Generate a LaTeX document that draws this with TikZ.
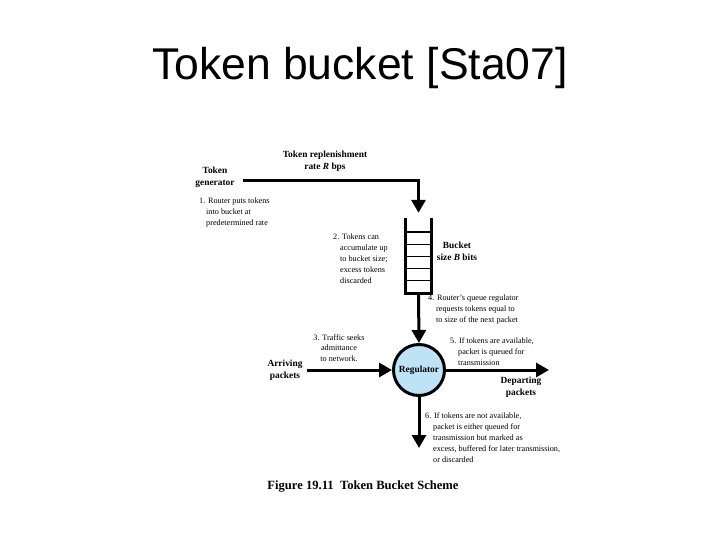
\documentclass[tikz,border=0pt]{standalone}
\usepackage{fontspec}
\setmainfont{Liberation Serif}
\newfontfamily\titlefont{Liberation Sans}
\usetikzlibrary{arrows.meta}
\definecolor{regblue}{RGB}{190,226,246}
\begin{document}
\begin{tikzpicture}[x=1pt,y=-1pt,
  thickline/.style={line width=3pt},
  bigarrow/.style={line width=3pt,-{Triangle[width=14pt,length=13pt]}},
  note/.style={font=\fontsize{8.2}{10.8}\selectfont,align=left,inner sep=0pt},
  lbl/.style={font=\fontsize{9.4}{12}\selectfont\bfseries,align=center,inner sep=0pt},
  rung/.style={line width=1pt}]
\useasboundingbox (0,0) rectangle (720,540);
% title
\node[font=\titlefont\fontsize{44.5}{48}\selectfont,inner sep=0pt] (title) at (360,68) {Token bucket [Sta07]};
% bucket
\node[minimum width=25pt,minimum height=75pt,inner sep=0pt] (bucket) at (418.5,255.5) {};
\draw[thickline] (bucket.north west) -- (bucket.south west);
\draw[thickline] (bucket.north east) -- (bucket.south east);
\foreach \yy in {232,244,256,268,280} \draw[rung] (406,\yy) -- (431,\yy);
\draw[thickline] ([xshift=-1.5pt]bucket.south west) -- ([xshift=1.5pt]bucket.south east);
% regulator
\node[circle,draw,line width=3pt,fill=regblue,minimum size=51pt,inner sep=0pt,
  font=\fontsize{9.4}{10}\selectfont\bfseries] (reg) at (419,370) {Regulator};
% connectors
\coordinate (tokstart) at (243,181);
\draw[bigarrow,shorten >=5pt] (tokstart) -| (bucket.north);
\draw[bigarrow] (bucket.south) -- (reg.north);
\coordinate (arrstart) at (307,370);
\draw[bigarrow] (arrstart) -- (reg.west);
\coordinate (depend) at (549,370);
\draw[bigarrow] (reg.east) -- (depend);
\coordinate (discend) at (419,448);
\draw[bigarrow] (reg.south) -- (discend);
% labels
\node[lbl] (repl) at (325,161) {Token replenishment\\rate \textit{R} bps};
\node[lbl] (gen) at (215,177) {Token\\generator};
\node[note,anchor=north west] (n1) at (199,198) {1. Router puts tokens\\\hspace*{7pt}into bucket at\\\hspace*{7pt}predetermined rate};
\node[note,anchor=north west] (n2) at (333,234) {2. Tokens can\\\hspace*{7pt}accumulate up\\\hspace*{7pt}to bucket size;\\\hspace*{7pt}excess tokens\\\hspace*{7pt}discarded};
\node[lbl,align=center] (bsize) at (457,251) {Bucket\\size \textit{B} bits};
\node[note,anchor=north west] (n4) at (428,295) {4. Router's queue regulator\\\hspace*{8pt}requests tokens equal to\\\hspace*{8pt}to size of the next packet};
\node[note,align=center] (n3) at (339,348) {3. Traffic seeks\\admittance\\to network.};
\node[lbl] (arr) at (285,370) {Arriving\\packets};
\node[note,anchor=north west] (n5) at (450,338) {5. If tokens are available,\\\hspace*{8pt}packet is queued for\\\hspace*{8pt}transmission};
\node[lbl] (dep) at (521,387) {Departing\\packets};
\node[note,anchor=north west] (n6) at (425,413) {6. If tokens are not available,\\\hspace*{8pt}packet is either queued for\\\hspace*{8pt}transmission but marked as\\\hspace*{8pt}excess, buffered for later transmission,\\\hspace*{8pt}or discarded};
\node[font=\fontsize{12.6}{14}\selectfont\bfseries,inner sep=0pt] (cap) at (363,487) {Figure 19.11\ \ Token Bucket Scheme};
\end{tikzpicture}
\end{document}
